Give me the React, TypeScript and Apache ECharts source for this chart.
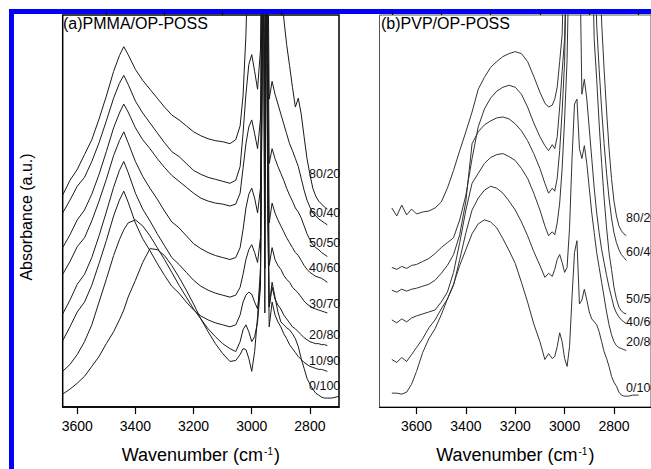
import React, { useEffect, useRef } from 'react';
import * as echarts from 'echarts';

// ---------- Panel (a) PMMA/OP-POSS ----------
const wavenumberA = [3650, 3625, 3600, 3575, 3550, 3525, 3500, 3475, 3455, 3440,
  3425, 3400, 3375, 3350, 3325, 3300, 3275, 3250, 3225, 3200,
  3175, 3150, 3125, 3100, 3075, 3055, 3040, 3030, 3020, 3010,
  3000, 2990, 2980, 2970, 2965, 2960, 2955, 2950, 2945, 2940,
  2930, 2920, 2910,
  2900, 2890, 2880, 2870, 2860, 2850, 2840, 2830, 2820, 2810,
  2800, 2790, 2780, 2770, 2760, 2750, 2740, 2725, 2710, 2700];

const pmma80_20 = [214, 229, 240, 255, 270, 291, 314, 339, 355, 364,
  356, 341, 330, 321, 312, 303, 295, 290, 284, 278,
  274, 271, 269, 268, 266, 270, 284, 314, 376, 480,
  480, 480, 480, 480, 480, 480, 480, 480, 480, 480,
  480, 480, 480,
  480, 393, 366, 345, 323, 303, 312, 296, 273, 251,
  235, 221, 213, 208, 205, 202, 200, null, null, null];
const pmma60_40 = [196, 209, 223, 232, 248, 267, 289, 312, 327, 335,
  326, 309, 297, 287, 277, 267, 258, 253, 246, 239,
  235, 232, 230, 228, 226, 229, 243, 276, 316, 346,
  356, 339, 321, 361, 480, 480, 480, 480, 480, 311,
  329, 316, 306,
  296, 286, 276, 266, 259, 251, 243, 231, 219, 209,
  202, 196, 193, 190, 188, 186, 184, null, null, null];
const pmma50_50 = [161, 174, 189, 199, 215, 235, 258, 282, 297, 306,
  298, 282, 270, 261, 251, 242, 234, 228, 222, 216,
  211, 208, 206, 205, 203, 205, 216, 241, 266, 283,
  290, 276, 261, 291, 480, 480, 480, 480, 420, 246,
  261, 251, 243,
  236, 229, 221, 214, 208, 201, 197, 191, 183, 175,
  169, 164, 161, 159, 156, 154, 152, null, null, null];
const pmma40_60 = [134, 147, 162, 171, 188, 208, 230, 254, 269, 278,
  267, 248, 233, 221, 210, 198, 187, 181, 173, 165,
  160, 156, 153, 151, 149, 151, 161, 179, 201, 215,
  221, 211, 196, 221, 430, 480, 400, 480, 350, 186,
  206, 196, 189,
  183, 177, 171, 166, 161, 156, 153, 148, 143, 139,
  136, 134, 132, 131, 130, 128, 126, null, null, null];
const pmma30_70 = [94, 108, 124, 134, 151, 173, 197, 222, 239, 248,
  237, 216, 200, 188, 175, 163, 151, 144, 136, 128,
  122, 118, 115, 113, 111, 113, 121, 134, 149, 159,
  164, 156, 146, 171, 380, 480, 320, 480, 300, 143,
  161, 149, 143,
  139, 133, 129, 126, 121, 118, 115, 111, 107, 104,
  102, 100, 99, 98, 97, 96, 95, null, null, null];
const pmma20_80 = [67, 81, 96, 106, 123, 145, 168, 193, 209, 218,
  207, 186, 170, 158, 145, 133, 122, 115, 106, 98,
  92, 88, 85, 83, 81, 83, 93, 106, 113, 116,
  114, 106, 99, 126, 330, 480, 230, 480, 250, 101,
  121, 109, 103,
  99, 93, 89, 85, 81, 79, 76, 73, 70, 68,
  66, 65, 64, 64, 63, 63, 62, null, null, null];
const pmma10_90 = [36, 43, 53, 66, 83, 106, 129, 153, 169, 179,
  186, 189, 183, 173, 161, 149, 136, 123, 111, 99,
  89, 79, 71, 64, 59, 56, 66, 78, 83, 76,
  66, 71, 86, 121, 300, 480, 140, 480, 200, 81,
  106, 93, 86,
  81, 74, 69, 63, 59, 55, 51, 48, 45, 43,
  41, 40, 39, 38, 38, 37, 36, null, null, null];
const pmma0_100 = [13, 18, 24, 31, 41, 51, 64, 76, 88, 98,
  111, 128, 146, 160, 159, 153, 143, 131, 118, 104,
  89, 76, 64, 54, 46, 47, 53, 59, 58, 49,
  36, 56, 91, 141, 300, 480, 95, 480, 200, 101,
  126, 111, 96,
  86, 83, 80, 78, 74, 69, 61, 49, 39, 29,
  23, 18, 14, 12, 10, 9, 9, 9, 10, 11];

const seriesA = [pmma80_20, pmma60_40, pmma50_50, pmma40_60, pmma30_70, pmma20_80, pmma10_90, pmma0_100];
const labelsA = ['80/20', '60/40', '50/50', '40/60', '30/70', '20/80', '10/90', '0/100'];

// ---------- Panel (b) PVP/OP-POSS ----------
const wavenumberB = [3700, 3680, 3660, 3640, 3620, 3600, 3575, 3550, 3525, 3500,
  3475, 3450, 3425, 3400, 3375, 3350, 3325, 3300, 3275, 3250,
  3225, 3200, 3175, 3150, 3125, 3100, 3080, 3065, 3050, 3040,
  3030, 3020, 3010, 3000, 2990, 2980, 2970, 2960, 2950, 2940,
  2930, 2920, 2910, 2900, 2890, 2880, 2870, 2860, 2850, 2840,
  2830, 2820, 2810, 2800, 2790, 2780, 2770, 2760, 2750, 2740,
  2725, 2710, 2700];

const pvp80_20 = [201, 193, 204, 194, 200, 195, 197, 198, 201, 207,
  221, 239, 259, 278, 298, 321, 333, 343, 349, 354,
  357, 359, 357, 349, 334, 318, 307, 303, 305, 311,
  323, 349, 376, 480, 480, 480, 480, 480, 480, 480,
  480, 480, 480, 480, 480, 480, 480, 480, 389, 341,
  299, 261, 231, 208, 193, 183, 178, 175, 173, null,
  null, null, null];
const pvp60_40 = [141, 139, 142, 140, 143, 144, 147, 150, 155, 161,
  166, 171, 189, 214, 251, 283, 301, 312, 319, 323,
  325, 323, 316, 303, 287, 273, 264, 259, 265, 261,
  273, 303, 339, 373, 480, 480, 480, 480, 480, 480,
  480, 480, 480, 480, 480, 480, 386, 341, 301, 266,
  236, 211, 191, 176, 166, 159, 154, 151, 148, null,
  null, null, null];
const pvp50_50 = [118, 116, 119, 117, 119, 120, 122, 124, 128, 135,
  143, 154, 174, 208, 266, 278, 285, 289, 292, 293,
  291, 286, 279, 269, 256, 241, 226, 216, 221, 218,
  231, 259, 299, 349, 480, 480, 480, 480, 480, 480,
  480, 480, 480, 480, 480, 371, 331, 286, 246, 211,
  181, 156, 139, 121, 109, 101, 97, 95, 94, null,
  null, null, null];
const pvp40_60 = [88, 85, 89, 86, 90, 92, 94, 96, 98, 106,
  116, 136, 166, 199, 226, 236, 246, 252, 255, 256,
  253, 249, 241, 231, 216, 199, 183, 173, 177, 174,
  186, 206, 241, 291, 351, 480, 480, 480, 480, 480,
  316, 331, 311, 281, 251, 221, 196, 176, 159, 146,
  133, 121, 111, 101, 95, 91, 88, 86, 84, null,
  null, null, null];
const pvp20_80 = [48, 45, 50, 46, 53, 60, 69, 80, 88, 99,
  109, 123, 149, 176, 199, 211, 219, 223, 221, 216,
  208, 199, 187, 173, 157, 143, 131, 135, 132, 139,
  149, 154, 146, 136, 141, 181, 251, 306, 311, 261,
  251, 264, 246, 221, 196, 176, 156, 141, 126, 111,
  96, 83, 73, 66, 62, 60, 59, 58, 57, null,
  null, null, null];
const pvp0_100 = [14, 14, 13, 15, 23, 36, 55, 69, 79, 93,
  109, 124, 143, 159, 175, 185, 189, 187, 181, 170,
  158, 145, 126, 106, 84, 66, 48, 54, 49, 51,
  61, 75, 66, 49, 41, 61, 111, 156, 168, 104,
  108, 119, 108, 96, 89, 86, 83, 76, 66, 56,
  49, 41, 31, 25, 21, 15, 12, 11, 11, 11,
  12, 12, 12];

const seriesB = [pvp80_20, pvp60_40, pvp50_50, pvp40_60, pvp20_80, pvp0_100];
const labelsB = ['80/20', '60/40', '50/50', '40/60', '20/80', '0/100'];

const majorTicks = [2800, 3000, 3200, 3400, 3600];
const minorTicksA = [2900, 3100, 3300, 3500];
const minorTicksB = [2700, 2900, 3100, 3300, 3500, 3700];

// label anchor positions (pixels) – style only
const labelYA = [174, 213, 243, 268, 304, 335, 361, 386];
const labelYB = [218, 252, 299, 322, 342, 388];

const FONT = "'Liberation Sans', Arial, Helvetica, sans-serif";

function pairs(xs: number[], ys: (number | null)[]) {
  const out: number[][] = [];
  xs.forEach((x, i) => {
    const y = ys[i];
    if (y !== null && y !== undefined) out.push([x, y]);
  });
  return out;
}

export default function App() {
  const ref = useRef<HTMLDivElement>(null);
  useEffect(() => {
    document.body.style.margin = '0';
    const chart = echarts.init(ref.current!, null, { renderer: 'svg' });

    const xAxisBase = (grid: number, min: number, max: number) => ({
      type: 'value',
      gridIndex: grid,
      min,
      max,
      inverse: true,
      splitLine: { show: false },
    });

    const nameStyle = {
      fontSize: 18,
      color: '#000',
      fontFamily: FONT,
      rich: {
        sup: { fontSize: 10, verticalAlign: 'top', fontFamily: FONT, color: '#000', padding: [0, 1, 8, 1] },
      },
    };
    const fmt = (v: number) => String(Math.round(v));

    const xAxes: any[] = [
      {
        ...xAxisBase(0, 2700, 3650),
        axisLine: { show: true, lineStyle: { color: '#000', width: 1.5 } },
        axisTick: { show: true, customValues: majorTicks, length: 7, lineStyle: { color: '#000', width: 1.2 } },
        axisLabel: { show: true, customValues: majorTicks, formatter: fmt, fontSize: 14, color: '#000', margin: 12, fontFamily: FONT },
        name: 'Wavenumber (cm{sup|-1})',
        nameLocation: 'middle',
        nameGap: 39,
        nameTextStyle: nameStyle,
      },
      {
        ...xAxisBase(0, 2700, 3650),
        axisLine: { show: false },
        axisTick: { show: true, customValues: minorTicksA, length: 4, lineStyle: { color: '#000', width: 1.2 } },
        axisLabel: { show: false },
      },
      {
        ...xAxisBase(1, 2650, 3750),
        axisLine: { show: true, lineStyle: { color: '#000', width: 1.2 } },
        axisTick: { show: true, customValues: majorTicks, length: 7, lineStyle: { color: '#000', width: 1.2 } },
        axisLabel: { show: true, customValues: majorTicks, formatter: fmt, fontSize: 14, color: '#000', margin: 12, fontFamily: FONT },
        name: 'Wavenumber (cm{sup|-1})',
        nameLocation: 'middle',
        nameGap: 39,
        nameTextStyle: nameStyle,
      },
      {
        ...xAxisBase(1, 2650, 3750),
        axisLine: { show: false },
        axisTick: { show: true, customValues: minorTicksB, length: 4, lineStyle: { color: '#000', width: 1.2 } },
        axisLabel: { show: false },
      },
    ];

    const yAxes = [0, 1].map((g) => ({
      type: 'value',
      gridIndex: g,
      min: 0,
      max: 396,
      show: false,
    }));

    const series: any[] = [];
    seriesA.forEach((ys, i) => {
      series.push({
        type: 'line',
        name: 'a ' + labelsA[i],
        xAxisIndex: 0,
        yAxisIndex: 0,
        data: pairs(wavenumberA, ys),
        showSymbol: false,
        symbol: 'none',
        clip: true,
        silent: true,
        lineStyle: { width: 1, color: '#1a1a1a' },
      });
    });
    seriesB.forEach((ys, i) => {
      series.push({
        type: 'line',
        name: 'b ' + labelsB[i],
        xAxisIndex: 2,
        yAxisIndex: 1,
        data: pairs(wavenumberB, ys),
        showSymbol: false,
        symbol: 'none',
        clip: true,
        silent: true,
        lineStyle: { width: 1, color: '#333' },
      });
    });

    const txt = (text: string, x: number, y: number, size: number, fill = '#000') => ({
      type: 'text',
      x,
      y,
      style: { text, fontSize: size, fontFamily: FONT, fill, align: 'left', verticalAlign: 'middle', textAlign: 'left', textVerticalAlign: 'middle' },
    });

    const graphics: any[] = [
      {
        type: 'text',
        x: 26,
        y: 217,
        rotation: Math.PI / 2,
        style: {
          text: 'Absorbance (a.u.)',
          fontSize: 16,
          fontFamily: FONT,
          fill: '#000',
          align: 'center',
          verticalAlign: 'middle',
          textAlign: 'center',
          textVerticalAlign: 'middle',
        },
      },
      txt('(a)PMMA/OP-POSS', 63, 23, 16),
      txt('(b)PVP/OP-POSS', 381, 23, 16),
    ];
    labelsA.forEach((t, i) => graphics.push(txt(t, 309, labelYA[i], 12.5, '#111')));
    labelsB.forEach((t, i) => graphics.push(txt(t, 626, labelYB[i], 12.5, '#111')));

    chart.setOption({
      animation: false,
      backgroundColor: 'transparent',
      grid: [
        { left: 62.7, top: 15, width: 276.3, height: 396, show: true, borderColor: '#000', borderWidth: 1.5, containLabel: false },
        { left: 379.5, top: 15, width: 277, height: 396, show: true, borderColor: '#555', borderWidth: 1, containLabel: false },
      ],
      xAxis: xAxes,
      yAxis: yAxes,
      series,
      graphic: graphics,
    });

    return () => chart.dispose();
  }, []);

  return (
    <div style={{ position: 'absolute', left: 0, top: 0, width: 651, height: 469, overflow: 'hidden', background: '#fff' }}>
      <div style={{ position: 'absolute', left: 9, top: 9, width: 642, height: 5, background: '#0000ff' }} />
      <div style={{ position: 'absolute', left: 9, top: 9, width: 5, height: 460, background: '#0000ff' }} />
      <div ref={ref} style={{ width: 651, height: 469, position: 'absolute', left: 0, top: 0 }} />
    </div>
  );
}
